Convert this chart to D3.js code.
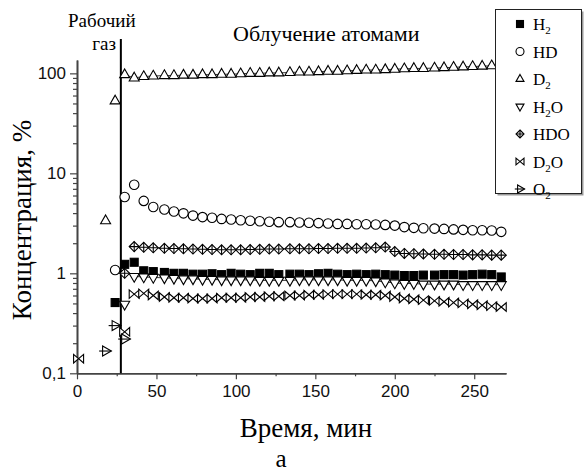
<!DOCTYPE html>
<html>
<head>
<meta charset="utf-8">
<script src="https://cdn.jsdelivr.net/npm/d3@7"></script>
<style>
  html, body { margin: 0; padding: 0; background: #fff; }
  svg { display: block; }
</style>
</head>
<body>
<div id="chart"></div>
<script>
'use strict';

const SERIF = '"Liberation Serif", "Times New Roman", serif'
const SANS  = '"Liberation Sans", Arial, sans-serif'

// time, min (first three points are before the irradiation starts)
const times = [1, 18, 24,
  30, 36, 42, 48, 55, 61, 67, 73, 79, 85, 91, 97, 103, 109, 115, 121, 127, 134, 140,
  146, 152, 158, 164, 170, 176, 182, 188, 194, 200, 206, 212, 218, 225, 231, 237, 243,
  249, 255, 261, 267]

const H2  = [null, null, 0.51,
  1.23, 1.29, 1.06, 1.04, 1.02, 1.0, 1.0, 0.98, 0.98, 0.99, 0.97, 1.0, 0.98, 0.97, 1.0,
  1.0, 0.97, 0.98, 0.98, 0.97, 0.99, 1.0, 0.98, 0.97, 0.98, 0.97, 0.98, 0.97, 0.96,
  0.95, 0.95, 0.96, 0.96, 0.97, 0.97, 0.96, 0.97, 0.98, 0.97, 0.92]
const HD  = [null, null, 1.08,
  5.8, 7.7, 5.3, 4.6, 4.35, 4.15, 3.98, 3.78, 3.65, 3.6, 3.5, 3.45, 3.4, 3.35, 3.32,
  3.28, 3.25, 3.25, 3.22, 3.2, 3.18, 3.15, 3.12, 3.12, 3.1, 3.1, 3.08, 3.05, 3.0,
  2.9, 2.85, 2.82, 2.8, 2.78, 2.75, 2.72, 2.7, 2.7, 2.68, 2.6]
const D2  = [null, 3.36, 53,
  97, 90, 93, 94, 95, 95, 96, 96, 97, 97, 98, 98, 99, 100, 100, 101, 101, 102, 103,
  103, 104, 105, 105, 106, 107, 108, 108, 109, 110, 111, 112, 112, 113, 114, 115, 116,
  117, 118, 119, 120]
const H2O = [null, null, null,
  0.49, 0.93, 0.92, 0.91, 0.9, 0.89, 0.88, 0.88, 0.87, 0.87, 0.86, 0.86, 0.86, 0.86,
  0.85, 0.85, 0.85, 0.85, 0.86, 0.86, 0.86, 0.86, 0.86, 0.85, 0.85, 0.85, 0.84, 0.82,
  0.8, 0.79, 0.79, 0.78, 0.78, 0.78, 0.78, 0.77, 0.77, 0.77, 0.77, 0.77]
const HDO = [null, null, null,
  1.0, 1.85, 1.82, 1.8, 1.78, 1.77, 1.76, 1.75, 1.74, 1.73, 1.72, 1.72, 1.72, 1.73,
  1.74, 1.75, 1.75, 1.76, 1.76, 1.76, 1.77, 1.77, 1.78, 1.78, 1.78, 1.79, 1.8, 1.83,
  1.65, 1.58, 1.57, 1.56, 1.55, 1.55, 1.54, 1.54, 1.53, 1.53, 1.52, 1.52]
const D2O = [0.14, null, null,
  0.26, 0.62, 0.63, 0.6, 0.58, 0.57, 0.57, 0.56, 0.56, 0.56, 0.57, 0.57, 0.57, 0.58,
  0.58, 0.59, 0.59, 0.6, 0.6, 0.61, 0.61, 0.62, 0.62, 0.62, 0.62, 0.61, 0.61, 0.6,
  0.58, 0.56, 0.55, 0.54, 0.53, 0.52, 0.51, 0.5, 0.49, 0.48, 0.47, 0.46]
const O2  = [null, 0.167, 0.30,
  0.22, null, null, null, null, null, null, null, null, null, null, null, null, null,
  null, null, null, null, null, null, null, null, null, null, null, null, null, null,
  null, null, null, null, null, null, null, null, null, null, null, null]

const xTicks = [0, 50, 100, 150, 200, 250]
const yTicks = [0.1, 1, 10, 100]
const gasStart = 27.6

const series = [
  {name: 'H', sub: '2', tail: '',  values: H2,  marker: 'square'},
  {name: 'HD', sub: '', tail: '',  values: HD,  marker: 'circle'},
  {name: 'D', sub: '2', tail: '',  values: D2,  marker: 'triUp',   line: 3},
  {name: 'H', sub: '2', tail: 'O', values: H2O, marker: 'triDown', line: 4},
  {name: 'HDO', sub: '', tail: '', values: HDO, marker: 'diamond', line: 4},
  {name: 'D', sub: '2', tail: 'O', values: D2O, marker: 'bowtie',  line: 4},
  {name: 'O', sub: '2', tail: '',  values: O2,  marker: 'triRight'},
]

const W = 586, H = 471
const svg = d3.select('#chart').append('svg').attr('width', W).attr('height', H)

const x = d3.scaleLinear().domain([0, 270]).range([77, 506])
const y = d3.scaleLog().domain([0.1, 136]).range([373.3, 60])

// markers drawn around (0,0)
function marker(g, type, s) {
  const h = s / 2
  g.attr('fill', 'white').attr('stroke', 'black').attr('stroke-width', 1.1)
  switch (type) {
    case 'square':
      g.append('rect').attr('x', -h).attr('y', -h).attr('width', s).attr('height', s)
        .attr('fill', 'black')
      break
    case 'circle':
      g.append('circle').attr('r', h)
      break
    case 'triUp':
      g.append('path').attr('d', `M0,${-h*1.15}L${h},${h*0.6}L${-h},${h*0.6}Z`)
      break
    case 'triDown':
      g.append('path').attr('d', `M0,${h*1.15}L${h},${-h*0.6}L${-h},${-h*0.6}Z`)
      break
    case 'diamond':
      g.append('path').attr('d', `M0,${-h}L${h},0L0,${h}L${-h},0Z`)
      g.append('path').attr('d', `M0,${-h}V${h}M${-h},0H${h}`)
      break
    case 'bowtie':
      g.append('path').attr('d', `M${-h},${-h*0.85}L${h},${h*0.85}L${h},${-h*0.85}L${-h},${h*0.85}Z`)
      break
    case 'triRight':
      g.append('path').attr('d', `M${h*1.15},0L${-h*0.6},${-h}L${-h*0.6},${h}Z`)
      g.append('path').attr('d', `M${-h*1.3},0H${h*1.15}`)
      break
  }
}

// axes
const axisColor = '#444'
function styleAxis(g) {
  g.select('.domain').attr('stroke', axisColor).attr('stroke-width', 1.6)
  g.selectAll('.tick line').attr('stroke', axisColor).attr('stroke-width', 1.2)
  g.selectAll('.tick text').attr('font-family', SANS).attr('font-size', 17).attr('fill', '#111')
}

const minorX = d3.range(25, 270, 50)
svg.append('g').attr('transform', `translate(0,${y(0.1)})`)
  .call(d3.axisBottom(x).tickValues(minorX).tickSize(3).tickFormat('').tickSizeOuter(0))
  .call(styleAxis)
svg.append('g').attr('transform', `translate(0,${y(0.1)})`)
  .call(d3.axisBottom(x).tickValues(xTicks).tickSize(6).tickPadding(6).tickSizeOuter(0))
  .call(styleAxis)

const minorY = y.ticks().filter((v) => !yTicks.some((t) => Math.abs(t - v) < 1e-9))
svg.append('g').attr('transform', `translate(${x(0)},0)`)
  .call(d3.axisLeft(y).tickValues(minorY).tickSize(4).tickFormat('').tickSizeOuter(0))
  .call(styleAxis)
svg.append('g').attr('transform', `translate(${x(0)},0)`)
  .call(d3.axisLeft(y).tickValues(yTicks).tickSize(7).tickPadding(4).tickSizeOuter(0)
    .tickFormat((d) => d < 1 ? '0,1' : String(d)))
  .call(styleAxis)

// start of irradiation
svg.append('line')
  .attr('x1', x(gasStart)).attr('x2', x(gasStart))
  .attr('y1', y(0.1)).attr('y2', 39)
  .attr('stroke', 'black').attr('stroke-width', 2)

// series lines
series.filter((s) => s.line !== undefined).forEach((s) => {
  const pts = s.values.map((v, i) => [times[i], v]).slice(s.line).filter((p) => p[1] != null)
  svg.append('path')
    .attr('d', d3.line().x((p) => x(p[0])).y((p) => y(p[1]))(pts))
    .attr('fill', 'none').attr('stroke', 'black').attr('stroke-width', 0.8)
})

// series markers
series.forEach((s) => {
  s.values.forEach((v, i) => {
    if (v == null) return
    const g = svg.append('g').attr('transform', `translate(${x(times[i])},${y(v)})`)
    marker(g, s.marker, s.marker === 'square' ? 8 : s.marker === 'circle' ? 9.5 : 10)
  })
})

// texts
function label(txt, size, px, py, anchor) {
  return svg.append('text').attr('font-family', SERIF).attr('font-size', size)
    .attr('x', px).attr('y', py).attr('text-anchor', anchor || 'start').text(txt)
}
label('Рабочий', 19, 68, 27)
label('газ', 19, 116, 50, 'end')
label('Облучение атомами', 22, 233, 41)
label('Время, мин', 27, 306, 437, 'middle')
label('а', 25, 281, 467, 'middle')
svg.append('text').attr('font-family', SERIF).attr('font-size', 27)
  .attr('text-anchor', 'middle')
  .attr('transform', `translate(31,220) rotate(-90)`)
  .text('Концентрация, %')

// legend
const lg = svg.append('g')
lg.append('rect').attr('x', 497.5).attr('y', 11.5).attr('width', 86).attr('height', 184).attr('fill', '#999')
lg.append('rect').attr('x', 495.5).attr('y', 9.5).attr('width', 86).attr('height', 184)
  .attr('fill', 'white').attr('stroke', '#222').attr('stroke-width', 1)
const rowY = d3.scaleLinear().domain([0, 6]).range([24, 189])
series.forEach((s, i) => {
  const cy = rowY(i)
  marker(lg.append('g').attr('transform', `translate(520,${cy})`), s.marker, s.marker === 'square' ? 7 : 8)
  const t = lg.append('text').attr('font-family', SERIF).attr('font-size', 17)
    .attr('x', 533).attr('y', cy + 6)
  t.append('tspan').text(s.name)
  if (s.sub) t.append('tspan').attr('font-size', 11).attr('dy', 4).text(s.sub)
  if (s.tail) t.append('tspan').attr('dy', -4).text(s.tail)
})
</script>
</body>
</html>
